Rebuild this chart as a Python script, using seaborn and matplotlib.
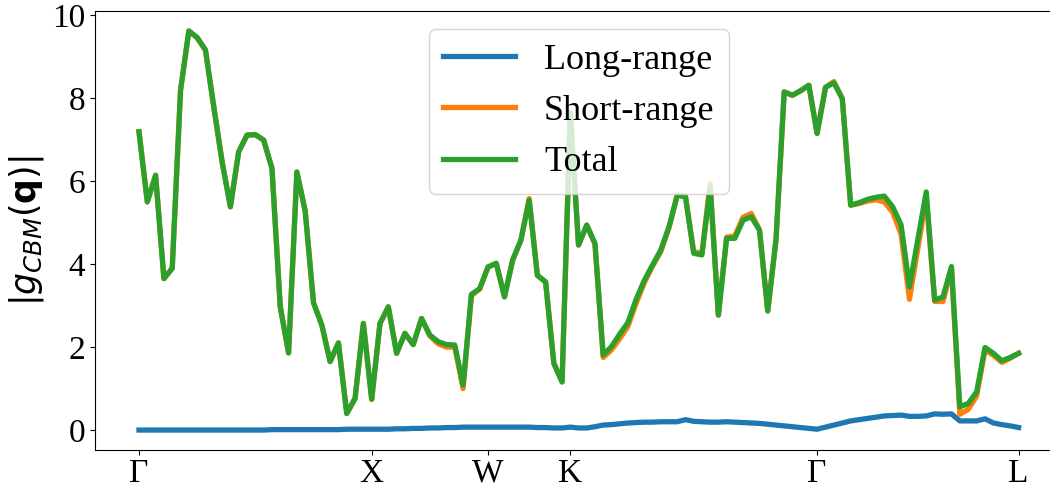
import numpy as np
import pandas as pd
import matplotlib
matplotlib.use("Agg")
import matplotlib.pyplot as plt
import seaborn as sns

# ---- data ----
path_labels = ["Γ", "X", "W", "K", "Γ", "L"]
seg_lengths = [1.0, 0.5, np.sqrt(2) / 4, 3 * np.sqrt(2) / 4, np.sqrt(3) / 2]  # FCC path lengths (2pi/a)
seg_intervals = [28, 14, 10, 30, 24]

long_range = [
    0.00, 0.00, 0.00, 0.00, 0.00, 0.00, 0.00, 0.00, 0.00, 0.00,
    0.00, 0.00, 0.00, 0.00, 0.00, 0.00, 0.01, 0.01, 0.01, 0.01,
    0.01, 0.01, 0.01, 0.01, 0.01, 0.02, 0.02, 0.02, 0.02,
    0.02, 0.02, 0.03, 0.03, 0.04, 0.04, 0.05, 0.05, 0.06, 0.06, 0.07, 0.07, 0.07, 0.07,
    0.07, 0.07, 0.07, 0.07, 0.07, 0.06, 0.06, 0.05, 0.05, 0.07,
    0.05, 0.05, 0.08, 0.12, 0.13, 0.15, 0.17, 0.18, 0.19, 0.19,
    0.20, 0.20, 0.20, 0.25, 0.21, 0.20, 0.19, 0.19, 0.20, 0.19,
    0.18, 0.17, 0.16, 0.14, 0.12, 0.10, 0.08, 0.06, 0.04, 0.02,
    0.07, 0.12, 0.17, 0.22, 0.25, 0.28, 0.31, 0.34, 0.35, 0.36,
    0.33, 0.33, 0.34, 0.39, 0.38, 0.39, 0.22, 0.22, 0.22, 0.27,
    0.17, 0.13, 0.10, 0.06,
]

total = [
    7.19, 5.50, 6.14, 3.65, 3.90, 8.19, 9.62, 9.46, 9.16, 7.79,
    6.47, 5.38, 6.71, 7.11, 7.12, 6.99, 6.31, 2.97, 1.86, 6.22,
    5.28, 3.07, 2.53, 1.65, 2.10, 0.40, 0.76, 2.57, 0.74,
    2.57, 2.97, 1.85, 2.33, 2.06, 2.69, 2.29, 2.13, 2.06, 2.05, 1.08, 3.27, 3.41, 3.93,
    4.02, 3.21, 4.10, 4.58, 5.54, 3.73, 3.57, 1.61, 1.16, 7.65,
    4.46, 4.94, 4.50, 1.81, 2.01, 2.31, 2.59, 3.15, 3.61, 3.98,
    4.34, 4.90, 5.66, 5.62, 4.26, 4.22, 5.86, 2.77, 4.62, 4.62,
    5.06, 5.14, 4.82, 2.87, 4.58, 8.15, 8.07, 8.18, 8.31, 7.15,
    8.26, 8.37, 7.99, 5.42, 5.48, 5.56, 5.61, 5.64, 5.38, 4.95,
    3.45, 4.60, 5.74, 3.13, 3.21, 3.94, 0.56, 0.64, 0.92, 1.99,
    1.85, 1.67, 1.75, 1.85,
]

short_range = [
    7.19, 5.50, 6.14, 3.65, 3.90, 8.19, 9.62, 9.46, 9.16, 7.79,
    6.47, 5.38, 6.71, 7.11, 7.12, 6.99, 6.31, 2.97, 1.86, 6.22,
    5.28, 3.07, 2.53, 1.65, 2.10, 0.40, 0.76, 2.57, 0.74,
    2.57, 2.97, 1.85, 2.33, 2.06, 2.69, 2.27, 2.08, 2.00, 2.00, 1.00, 3.24, 3.40, 3.93,
    4.02, 3.21, 4.10, 4.58, 5.58, 3.73, 3.57, 1.61, 1.16, 7.65,
    4.46, 4.94, 4.48, 1.75, 1.93, 2.20, 2.50, 3.05, 3.55, 3.95,
    4.30, 4.88, 5.66, 5.64, 4.30, 4.26, 5.95, 2.77, 4.65, 4.68,
    5.13, 5.22, 4.82, 2.87, 4.58, 8.15, 8.07, 8.18, 8.31, 7.15,
    8.26, 8.40, 7.99, 5.42, 5.46, 5.52, 5.55, 5.50, 5.25, 4.72,
    3.15, 4.38, 5.60, 3.10, 3.10, 3.90, 0.38, 0.50, 0.82, 1.93,
    1.80, 1.63, 1.73, 1.85,
]

# ---- q-path coordinate ----
q_parts = []
start = 0.0
tick_pos = [0.0]
for i, (L, n) in enumerate(zip(seg_lengths, seg_intervals)):
    pts = np.linspace(start, start + L, n + 1)
    q_parts.append(pts if i == 0 else pts[1:])
    start += L
    tick_pos.append(start)
q = np.concatenate(q_parts)

df = pd.DataFrame({"q": q, "long": long_range, "short": short_range, "total": total})

# ---- style ----
plt.rcParams["font.family"] = "serif"
plt.rcParams["font.serif"] = ["Liberation Serif", "DejaVu Serif"]
plt.rcParams["mathtext.fontset"] = "dejavusans"

fig = plt.figure(figsize=(10.5, 4.87), dpi=100)
ax = fig.add_axes([95 / 1050, 37 / 487, 967.6 / 1050, 439 / 487])

lw = 3.8
sns.lineplot(data=df, x="q", y="long", ax=ax, color="#1f77b4", lw=lw, label="Long-range")
sns.lineplot(data=df, x="q", y="short", ax=ax, color="#ff7f0e", lw=lw, label="Short-range")
sns.lineplot(data=df, x="q", y="total", ax=ax, color="#2ca02c", lw=lw, label="Total")

ax.set_xticks(tick_pos)
ax.set_xticklabels(path_labels)
ax.set_yticks([0, 2, 4, 6, 8, 10])
ax.tick_params(axis="both", labelsize=24)
ax.tick_params(axis="x", pad=2.5)
ax.set_xlabel("")
ax.set_ylabel(r"$|g_{CBM}(\mathbf{q})|$", fontsize=25)
ax.margins(x=0.05, y=0.05)

leg = ax.legend(loc="upper center", fontsize=26)
for line in leg.get_lines():
    line.set_linewidth(3.8)

fig.savefig("out.png", dpi=100)
